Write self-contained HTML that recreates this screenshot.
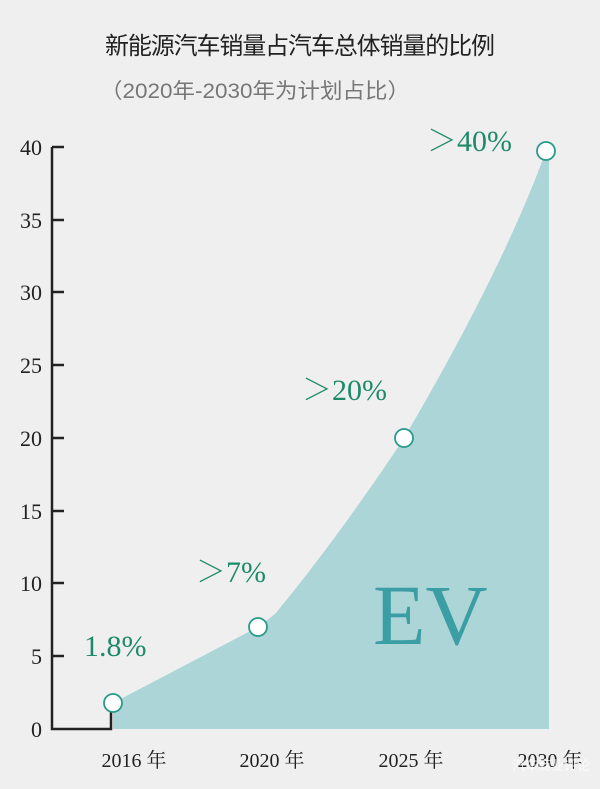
<!DOCTYPE html>
<html><head><meta charset="utf-8"><style>
html,body{margin:0;padding:0;background:#efefef;}
svg{display:block}
</style></head><body>
<svg width="600" height="789" viewBox="0 0 600 789" xmlns="http://www.w3.org/2000/svg">
<rect width="600" height="789" fill="#efefef"/>
<text x="300" y="54" text-anchor="middle" font-family="'Liberation Sans','Noto Sans CJK SC',sans-serif" font-size="24" fill="#222" textLength="390">新能源汽车销量占汽车总体销量的比例</text>
<text x="100" y="98" font-family="'Liberation Sans','Noto Sans CJK SC',sans-serif" font-size="21" fill="#777" textLength="310" lengthAdjust="spacingAndGlyphs">（2020年-2030年为计划占比）</text>
<path d="M113,703 L258,627 L275,614 C320,560 370,490 404,438 C450,360 510,250 546,151 L549,151 L549,729 L113,729 Z" fill="#acd5d7"/>
<g stroke="#222" stroke-width="2.5" fill="none">
<path d="M52,147 V729 H111 V711"/>
<path d="M52,147H64 M52,220H64 M52,292H64 M52,365H64 M52,438H64 M52,511H64 M52,583H64 M52,656H64"/>
</g>
<g font-family="'Liberation Serif',serif" font-size="22" fill="#222" text-anchor="end">
<text x="42" y="155">40</text><text x="42" y="228">35</text><text x="42" y="300">30</text><text x="42" y="373">25</text><text x="42" y="446">20</text><text x="42" y="519">15</text><text x="42" y="591">10</text><text x="42" y="664">5</text><text x="42" y="737">0</text>
</g>
<g font-family="'Liberation Serif','Noto Serif CJK SC',serif" font-size="20" fill="#222" text-anchor="middle">
<text x="134" y="767">2016 年</text><text x="272" y="767">2020 年</text><text x="411" y="767">2025 年</text><text x="550" y="767">2030 年</text>
</g>
<g fill="#fff" stroke="#2a9a8a" stroke-width="1.8">
<circle cx="113" cy="703" r="9"/><circle cx="258" cy="627" r="9"/><circle cx="404" cy="438" r="9"/><circle cx="546" cy="151" r="9"/>
</g>
<g font-family="'Liberation Serif','Noto Serif CJK SC',serif" font-size="30" fill="#1f8a6a">
<text x="84" y="656">1.8%</text>
<text x="196" y="582">＞7%</text>
<text x="302" y="400">＞20%</text>
<text x="427" y="151">＞40%</text>
</g>
<text x="373" y="644" font-family="'Liberation Serif',serif" font-size="86" fill="#3a9ea4">EV</text>
<text x="590" y="770" text-anchor="end" font-family="'Liberation Sans','Noto Sans CJK SC',sans-serif" font-size="13" fill="#fff" opacity="0.8">汽车商业评论</text>
</svg>
</body></html>
